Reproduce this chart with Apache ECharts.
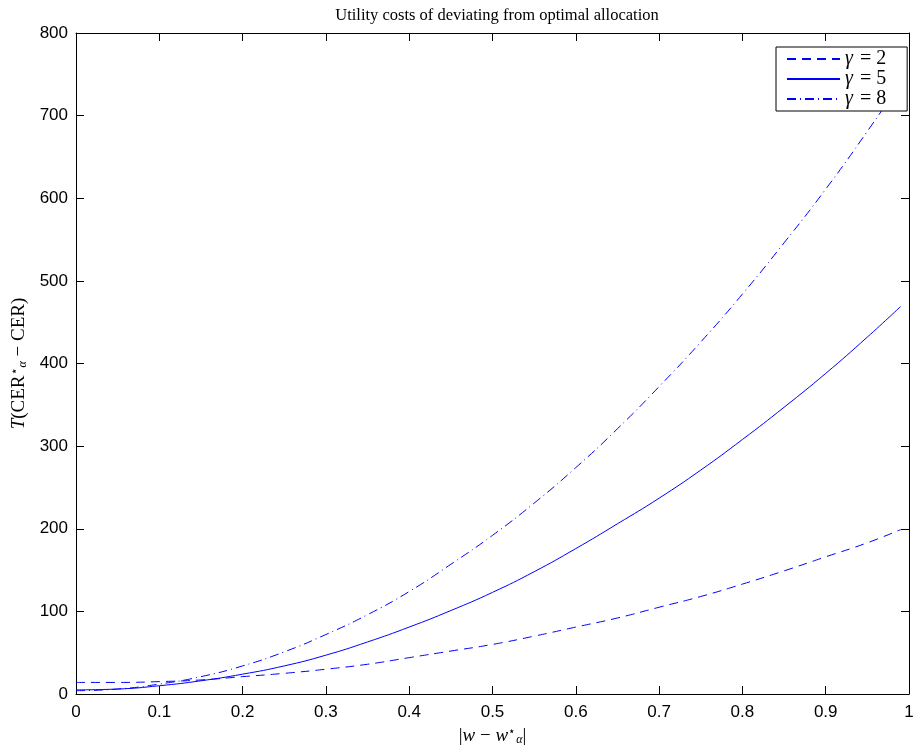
<!DOCTYPE html>
<html>
<head>
<meta charset="utf-8">
<title>Utility costs</title>
<script src="https://cdn.jsdelivr.net/npm/echarts@6/dist/echarts.min.js"></script>
<style>
  html, body { margin: 0; padding: 0; background: #fff; }
  #chart { width: 915px; height: 751px; }
</style>
</head>
<body>
<div id="chart"></div>
<script>
// |w - w*| values along the x axis
const devs = [0, 0.05, 0.1, 0.15, 0.2, 0.25, 0.3, 0.35, 0.4, 0.45, 0.5,
  0.55, 0.6, 0.65, 0.7, 0.75, 0.8, 0.85, 0.9, 0.95, 0.99]
// utility costs, one array per gamma
const gamma2 = [14, 14, 15, 17, 21, 25, 30, 36, 44, 52, 60,
  70, 81, 92, 105, 118, 133, 149, 166, 183, 199]
const gamma5 = [5, 6, 10, 16, 24, 34, 47, 63, 81, 101, 123,
  148, 176, 206, 237, 271, 308, 347, 388, 432, 469]
const gamma8 = [4, 6, 12, 21, 34, 51, 72, 96, 124, 157, 192,
  231, 274, 321, 372, 426, 484, 546, 611, 681, 740]
const seriesNames = ['γ = 2', 'γ = 5', 'γ = 8']

const chart = echarts.init(document.getElementById('chart'))

const pairs = ys => devs.map((x, i) => [x, ys[i]])
const blue = '#0000ff'
const sans = 'Liberation Sans'
const serif = 'Liberation Serif'

// shared look of the box axes (MATLAB style, ticks inside)
const boxAxis = (extra) => Object.assign({
  type: 'value',
  axisLine: { show: true, onZero: false, lineStyle: { color: '#000', width: 1 } },
  axisTick: { show: true, inside: true, length: 8, lineStyle: { color: '#000' } },
  splitLine: { show: false }
}, extra)

// math-ish rich styles for axis names
const mathRich = {
  i: { fontFamily: serif, fontStyle: 'italic', fontSize: 19 },
  s: { fontFamily: serif, fontSize: 12, padding: [0, 0, 9, 0] },
  a: { fontFamily: serif, fontStyle: 'italic', fontSize: 12, padding: [7, 0, 0, 0] }
}

const option = {
  animation: false,
  backgroundColor: '#fff',
  title: {
    text: 'Utility costs of deviating from optimal allocation',
    left: 492,
    textAlign: 'center',
    top: 2,
    textStyle: { fontFamily: serif, fontWeight: 'normal', fontSize: 16.5, color: '#000' }
  },
  grid: { left: 76, right: 6, top: 33, bottom: 57, outerBoundsMode: 'none' },
  legend: {
    left: 776,
    top: 47,
    orient: 'vertical',
    backgroundColor: '#fff',
    borderColor: '#000',
    borderWidth: 1,
    borderRadius: 0,
    padding: [2, 21, 2, 10],
    itemGap: 0,
    itemWidth: 53,
    itemHeight: 14,
    itemStyle: { opacity: 0 },
    data: seriesNames,
    formatter: name => '{g|γ}{e|=}' + name.slice(-1),
    textStyle: {
      fontFamily: serif, fontSize: 20, color: '#000', lineHeight: 18,
      rich: {
        g: { fontFamily: serif, fontStyle: 'italic', fontSize: 20, color: '#000' },
        e: { fontFamily: serif, fontSize: 20, color: '#000', padding: [0, 5, 0, 7] }
      }
    }
  },
  xAxis: [
    boxAxis({
      min: 0, max: 1, interval: 0.1,
      name: '{b||}{i|w} − {i|w}{s|⋆}{a|α}{b||}',
      nameLocation: 'middle',
      nameGap: 31,
      nameTextStyle: {
        fontFamily: serif, fontSize: 19, color: '#000',
        rich: Object.assign({ b: { fontFamily: serif, fontSize: 19 } }, mathRich)
      },
      axisLabel: { color: '#000', fontFamily: sans, fontSize: 17, margin: 10 }
    }),
    boxAxis({ min: 0, max: 1, interval: 0.1, position: 'top', axisLabel: { show: false } })
  ],
  yAxis: [
    boxAxis({
      min: 0, max: 800, interval: 100,
      name: '{i|T}(CER{s|⋆}{a|α} − CER)',
      nameLocation: 'middle',
      nameRotate: 90,
      nameGap: 37,
      nameTextStyle: { fontFamily: serif, fontSize: 19, color: '#000', rich: mathRich },
      axisLabel: { color: '#000', fontFamily: sans, fontSize: 17, margin: 8 }
    }),
    boxAxis({ min: 0, max: 800, interval: 100, position: 'right', axisLabel: { show: false } })
  ],
  series: [
    {
      name: seriesNames[0], type: 'line', smooth: true, symbol: 'none',
      data: pairs(gamma2),
      lineStyle: { color: blue, width: 1, type: [9, 6] },
      itemStyle: { color: blue }
    },
    {
      name: seriesNames[1], type: 'line', smooth: true, symbol: 'none',
      data: pairs(gamma5),
      lineStyle: { color: blue, width: 1, type: 'solid' },
      itemStyle: { color: blue }
    },
    {
      name: seriesNames[2], type: 'line', smooth: true, symbol: 'none',
      data: pairs(gamma8),
      lineStyle: { color: blue, width: 1, type: [9, 4, 1, 4] },
      itemStyle: { color: blue }
    }
  ]
}

chart.setOption(option)
</script>
</body>
</html>
